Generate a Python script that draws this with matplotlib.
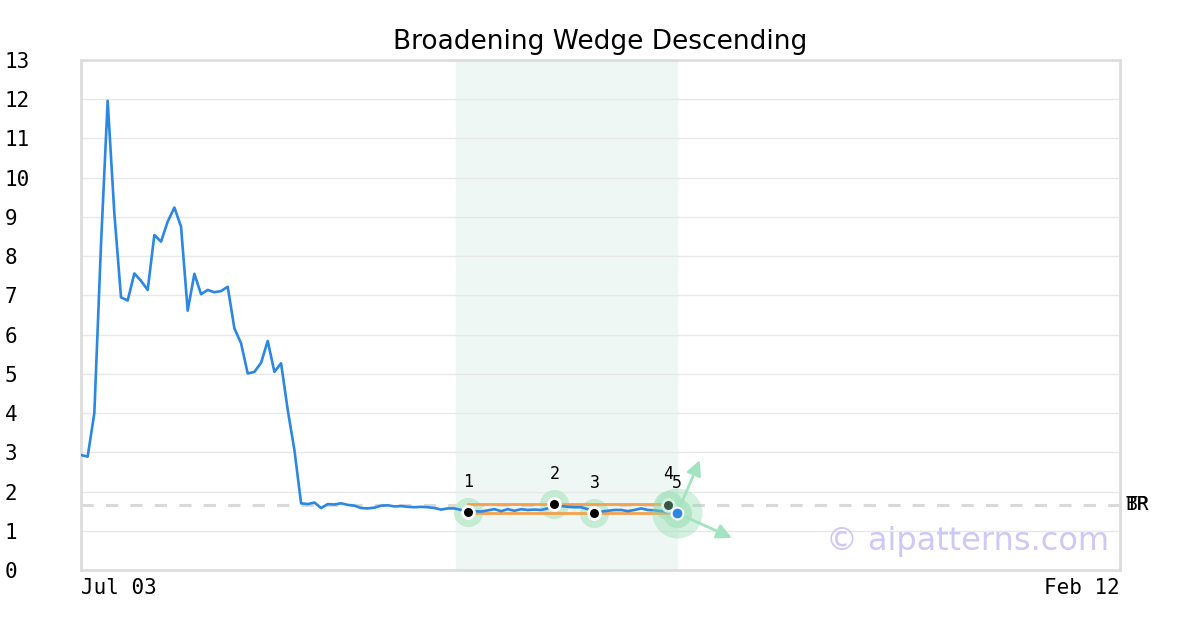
import numpy as np
import matplotlib
matplotlib.use("Agg")
import matplotlib.pyplot as plt

# price series (weekly index steps)
price = [2.93, 2.89, 4.0, 8.3, 11.96, 9.09, 6.95, 6.87, 7.56, 7.37,
         7.14, 8.54, 8.37, 8.88, 9.24, 8.75, 6.61, 7.55, 7.03, 7.14,
         7.08, 7.11, 7.22, 6.16, 5.78, 5.01, 5.05, 5.28, 5.84, 5.05,
         5.27, 4.08, 3.06, 1.70, 1.68, 1.72, 1.58, 1.68, 1.67, 1.70,
         1.66, 1.64, 1.58, 1.57, 1.59, 1.64, 1.65, 1.62, 1.63, 1.61,
         1.60, 1.61, 1.60, 1.58, 1.54, 1.57, 1.57, 1.53, 1.47, 1.50,
         1.49, 1.52, 1.55, 1.50, 1.55, 1.51, 1.55, 1.53, 1.54, 1.53,
         1.57, 1.66, 1.63, 1.61, 1.60, 1.60, 1.55, 1.46, 1.49, 1.51,
         1.53, 1.53, 1.50, 1.53, 1.57, 1.53, 1.52, 1.50, 1.49, 1.46]

pt_x = [58, 71, 77, 88, 89.4]
pt_y = [1.47, 1.68, 1.45, 1.66, 1.45]
pt_lab = ["1", "2", "3", "4", "5"]

upper_line = ([58, 88], [1.68, 1.68])
lower_line = ([58, 88], [1.46, 1.46])
zone = (56.3, 89.4)
level = 1.66
arrow_up = (92.8, 2.80)
arrow_down = (97.6, 0.82)

x_end = 155.8
x_labels = ["Jul 03", "Feb 12"]

mono = "DejaVu Sans Mono"

fig = plt.figure(figsize=(12, 6.3), dpi=100)
ax = fig.add_axes([81/1200, 1-570/630, 1039/1200, 510/630])

ax.axvspan(zone[0], zone[1], color="#eef7f3", zorder=0)
for v in range(1, 13):
    ax.axhline(v, color="#e8e8e8", lw=1, zorder=1)
ax.axhline(level, color="#d9d9d9", lw=2.2, ls=(0, (4, 4)), zorder=1)

ax.plot(np.arange(len(price)), price, color="#2b87e3", lw=1.9, zorder=3)

ax.plot(*upper_line, color="#f6a04d", lw=2, zorder=2.5)
ax.plot(*lower_line, color="#f6a04d", lw=2, zorder=2.5)

# halos
ax.scatter(pt_x, pt_y, s=440, color="#bfe9cf", alpha=0.85, zorder=2, lw=0)

ax.plot(pt_x[:4], pt_y[:4], "o", color="black", ms=8.5, mec="white", mew=2, zorder=5)

# large halo on the last point, over point 4
ax.scatter([pt_x[4]], [pt_y[4]], s=1300, color="#8fdcb0", alpha=0.4, zorder=5.5, lw=0)

for tgt in (arrow_up, arrow_down):
    ax.annotate("", xy=tgt, xytext=(pt_x[4], pt_y[4]),
                arrowprops=dict(arrowstyle="-|>", color="#a3e4c0", lw=2,
                                mutation_scale=22, shrinkA=0, shrinkB=0),
                zorder=5.6)

ax.plot([pt_x[4]], [pt_y[4]], "o", color="#2b87e3", ms=8.5, mec="white", mew=1.5, zorder=6)

for x, y, t in zip(pt_x, pt_y, pt_lab):
    ax.annotate(t, (x, y), xytext=(0, 22), textcoords="offset points",
                ha="center", va="center", fontsize=12, family=mono, zorder=7)

ax.text(1.005, level, "TP", transform=ax.get_yaxis_transform(), ha="left",
        va="center", fontsize=14, family=mono)
ax.text(1.005, level, "BR", transform=ax.get_yaxis_transform(), ha="left",
        va="center", fontsize=14, family=mono)

ax.text(0.99, 0.055, "\u00a9 aipatterns.com", transform=ax.transAxes, ha="right",
        va="center", fontsize=23, color="#cdc8f5", zorder=8)

ax.set_xlim(0, x_end)
ax.set_ylim(0, 13)
ax.set_yticks(range(14))
ax.set_yticklabels([str(v) for v in range(14)], family=mono, fontsize=15)
for lab in ax.get_yticklabels():
    lab.set_horizontalalignment("left")
ax.tick_params(axis="y", length=0, pad=55)
ax.set_xticks([0, x_end])
ax.set_xticklabels(x_labels, family=mono, fontsize=15)
xl = ax.get_xticklabels()
xl[0].set_horizontalalignment("left")
xl[1].set_horizontalalignment("right")
ax.tick_params(axis="x", length=0, pad=6)

for s in ax.spines.values():
    s.set_color("#dddddd")
    s.set_linewidth(2)

ax.set_title("Broadening Wedge Descending", fontsize=19, pad=8)

fig.savefig("out.png", dpi=100)
